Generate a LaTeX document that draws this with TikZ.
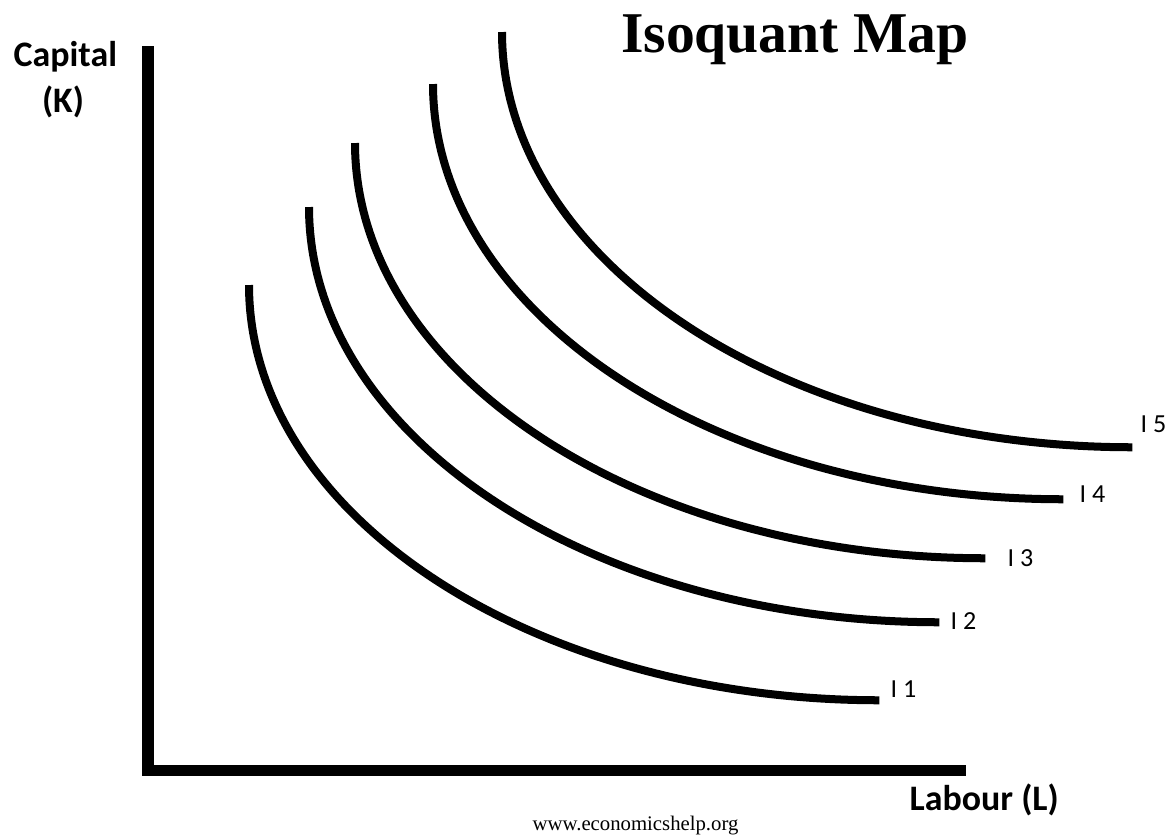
\documentclass[tikz,border=0pt]{standalone}
\usepackage{fontspec}
\setmainfont{Liberation Serif}
\newfontfamily\labelfont{Carlito}
\usepackage{tikz}
\usetikzlibrary{positioning, calc}
\tikzset{
  axisline/.style={line width=0.11cm, line join=miter, black},
  isoline/.style={line width=0.08cm, black},
  axislabel/.style={font=\labelfont\bfseries\fontsize{10.2pt}{12pt}\selectfont, inner sep=0pt},
  isolabel/.style={font=\labelfont\fontsize{7.4pt}{9pt}\selectfont, inner sep=0pt, anchor=base west},
  titlenode/.style={font=\bfseries\fontsize{16.4pt}{19pt}\selectfont, inner sep=0pt},
  sitenode/.style={font=\fontsize{5.9pt}{7pt}\selectfont, inner sep=0pt},
}
\begin{document}
\begin{tikzpicture}[x=0.01cm, y=-0.01cm]
  \useasboundingbox (0,0) rectangle (1173,835);
  % axes
  \coordinate (ktop) at (148,46);
  \coordinate (origin) at (148,770);
  \coordinate (lend) at (966,770);
  \draw[axisline] (ktop) -- (origin) -- (lend);
  \node[axislabel, anchor=base west] (capital) at (13,66) {Capital};
  \node[axislabel, anchor=base] (kname) at (63,112) {(K)};
  \node[axislabel, anchor=base west] (labour) at (909,810) {Labour (L)};
  \node[titlenode, anchor=base] (title) at (795,52) {Isoquant Map};
  \node[sitenode, anchor=base west] (site) at (532,830) {www.economicshelp.org};
  % isoquants: quarter ellipses, same size, shifted
  \foreach \sx/\sy/\lx/\ly/\n in {249/285/890/697/1, 309/207/950/629/2, 355/143/1007/566/3, 433/84/1079/502/4, 502/32/1140/432/5}{
    \coordinate (top\n) at (\sx,\sy);
    \draw[isoline] (top\n) arc[start angle=180, end angle=270, x radius=6.3cm, y radius=4.15cm];
    \node[isolabel] (iso\n) at (\lx,\ly) {I \n};
  }
\end{tikzpicture}
\end{document}
